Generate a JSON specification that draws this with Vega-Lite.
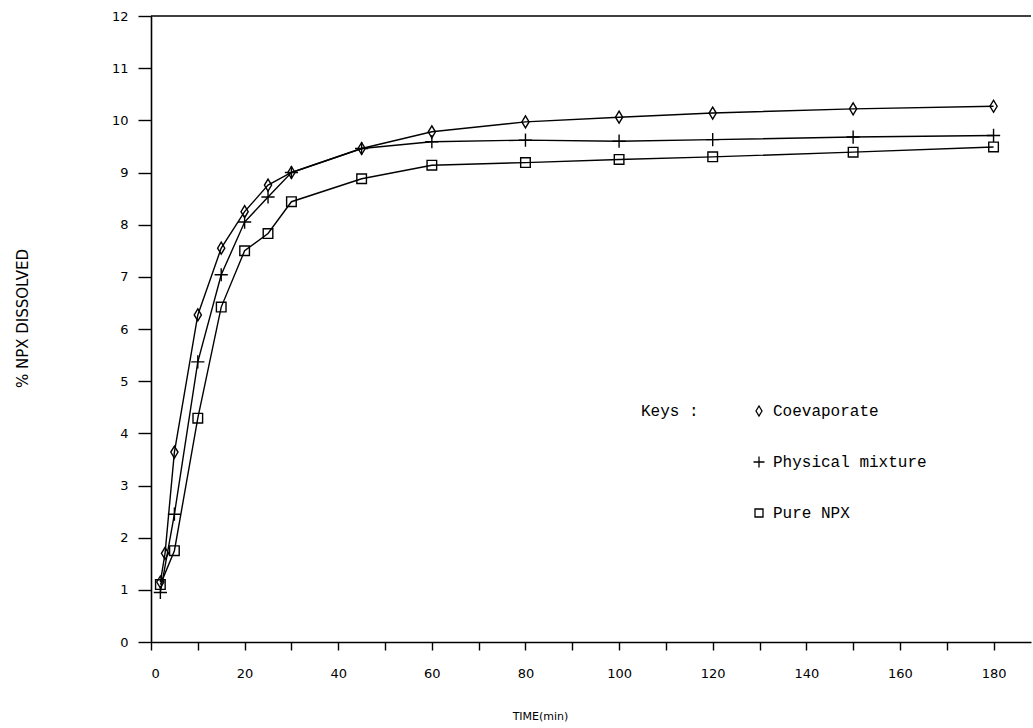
{
  "$schema": "https://vega.github.io/schema/vega-lite/v6.json",
  "width": 880,
  "height": 626,
  "autosize": {"type": "none"},
  "padding": {"left": 151, "top": 16, "right": 2, "bottom": 86},
  "background": "white",
  "config": {
    "view": {"stroke": null},
    "axis": {
      "domainColor": "black", "domainWidth": 1.6,
      "tickColor": "black", "tickWidth": 1.4,
      "labelColor": "black", "labelFont": "DejaVu Sans", "labelFontSize": 13,
      "titleColor": "black", "titleFont": "DejaVu Sans", "titleFontSize": 11, "titleFontWeight": "normal",
      "grid": false
    }
  },
  "data": {"values": [
    {"series": "Coevaporate", "time": 2, "value": 1.15},
    {"series": "Coevaporate", "time": 3, "value": 1.7},
    {"series": "Coevaporate", "time": 5, "value": 3.64},
    {"series": "Coevaporate", "time": 10, "value": 6.27},
    {"series": "Coevaporate", "time": 15, "value": 7.55},
    {"series": "Coevaporate", "time": 20, "value": 8.25},
    {"series": "Coevaporate", "time": 25, "value": 8.76},
    {"series": "Coevaporate", "time": 30, "value": 9.0},
    {"series": "Coevaporate", "time": 45, "value": 9.46},
    {"series": "Coevaporate", "time": 60, "value": 9.78},
    {"series": "Coevaporate", "time": 80, "value": 9.97},
    {"series": "Coevaporate", "time": 100, "value": 10.06},
    {"series": "Coevaporate", "time": 120, "value": 10.14},
    {"series": "Coevaporate", "time": 150, "value": 10.22},
    {"series": "Coevaporate", "time": 180, "value": 10.27},
    {"series": "Physical mixture", "time": 2, "value": 0.95},
    {"series": "Physical mixture", "time": 5, "value": 2.45},
    {"series": "Physical mixture", "time": 10, "value": 5.37},
    {"series": "Physical mixture", "time": 15, "value": 7.04},
    {"series": "Physical mixture", "time": 20, "value": 8.05},
    {"series": "Physical mixture", "time": 25, "value": 8.53},
    {"series": "Physical mixture", "time": 30, "value": 9.0},
    {"series": "Physical mixture", "time": 45, "value": 9.46},
    {"series": "Physical mixture", "time": 60, "value": 9.59},
    {"series": "Physical mixture", "time": 80, "value": 9.62},
    {"series": "Physical mixture", "time": 100, "value": 9.6},
    {"series": "Physical mixture", "time": 120, "value": 9.63},
    {"series": "Physical mixture", "time": 150, "value": 9.68},
    {"series": "Physical mixture", "time": 180, "value": 9.71},
    {"series": "Pure NPX", "time": 2, "value": 1.1},
    {"series": "Pure NPX", "time": 5, "value": 1.75},
    {"series": "Pure NPX", "time": 10, "value": 4.29},
    {"series": "Pure NPX", "time": 15, "value": 6.42},
    {"series": "Pure NPX", "time": 20, "value": 7.5},
    {"series": "Pure NPX", "time": 25, "value": 7.83},
    {"series": "Pure NPX", "time": 30, "value": 8.44},
    {"series": "Pure NPX", "time": 45, "value": 8.88},
    {"series": "Pure NPX", "time": 60, "value": 9.14},
    {"series": "Pure NPX", "time": 80, "value": 9.19},
    {"series": "Pure NPX", "time": 100, "value": 9.25},
    {"series": "Pure NPX", "time": 120, "value": 9.3},
    {"series": "Pure NPX", "time": 150, "value": 9.39},
    {"series": "Pure NPX", "time": 180, "value": 9.49}
  ]},
  "layer": [
    {
      "data": {"values": [{}]},
      "mark": {"type": "rule", "color": "black", "strokeWidth": 1.6},
      "encoding": {"y": {"datum": 12, "type": "quantitative"}}
    },
    {
      "mark": {"type": "line", "color": "black", "strokeWidth": 1.4},
      "encoding": {
        "x": {
          "field": "time", "type": "quantitative",
          "scale": {"domain": [0, 188], "nice": false},
          "axis": {
            "values": [0, 10, 20, 30, 40, 50, 60, 70, 80, 90, 100, 110, 120, 130, 140, 150, 160, 170, 180],
            "labelExpr": "datum.value % 20 == 0 ? datum.label : ''",
            "tickSize": 8, "labelPadding": 17,
            "title": "TIME(min)", "titleX": 389, "titleY": 74, "titleBaseline": "middle", "titleAlign": "center"
          }
        },
        "y": {
          "field": "value", "type": "quantitative",
          "scale": {"domain": [0, 12], "nice": false},
          "axis": {
            "values": [0, 1, 2, 3, 4, 5, 6, 7, 8, 9, 10, 11, 12],
            "tickSize": 13, "labelPadding": 10,
            "title": "% NPX DISSOLVED", "titleX": -129, "titleY": 302, "titleAngle": -90,
            "titleAlign": "center", "titleBaseline": "middle", "titleFontSize": 15
          }
        },
        "detail": {"field": "series"}
      }
    },
    {
      "mark": {"type": "point", "filled": false, "stroke": "black", "strokeWidth": 1.4, "opacity": 1, "size": 144},
      "encoding": {
        "x": {"field": "time", "type": "quantitative"},
        "y": {"field": "value", "type": "quantitative"},
        "shape": {
          "field": "series", "type": "nominal",
          "scale": {
            "domain": ["Coevaporate", "Physical mixture", "Pure NPX"],
            "range": ["M0,-1L0.6,0L0,1L-0.6,0Z", "M-1.1,0H1.1M0,-1.1V1.1", "M-0.8,-0.8H0.8V0.8H-0.8Z"]
          },
          "legend": {
            "orient": "none", "legendX": 490, "legendY": 387,
            "title": "Keys :", "titleOrient": "left", "titleAngle": 0, "titleAnchor": "start", "titleBaseline": "top",
            "titleFont": "Liberation Mono", "titleFontSize": 16, "titleFontWeight": "normal", "titleColor": "black",
            "titlePadding": 52,
            "labelFont": "Liberation Mono", "labelFontSize": 16, "labelColor": "black", "labelOffset": 6,
            "rowPadding": 34, "symbolSize": 100, "symbolStrokeColor": "black", "symbolStrokeWidth": 1.3,
            "symbolFillColor": "transparent", "padding": 0
          }
        }
      }
    }
  ]
}
